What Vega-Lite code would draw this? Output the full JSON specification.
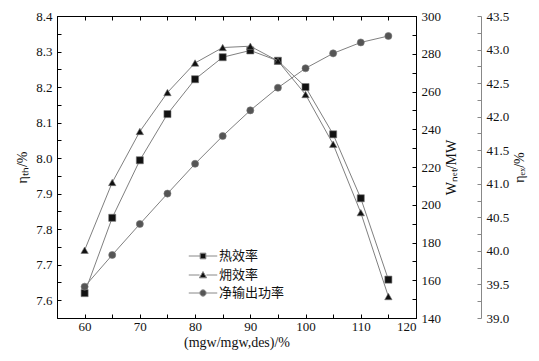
{
  "$schema": "https://vega.github.io/schema/vega-lite/v6.json",
  "width": 359,
  "height": 302,
  "padding": {"left": 15, "top": 10, "right": 2, "bottom": 5},
  "config": {
    "font": "Liberation Serif",
    "view": {"stroke": "#000", "strokeWidth": 1},
    "axis": {
      "grid": false,
      "domainColor": "#000",
      "tickColor": "#000",
      "labelColor": "#111",
      "titleColor": "#111",
      "labelFont": "Liberation Serif",
      "titleFont": "Liberation Serif",
      "labelFontSize": 13,
      "titleFontSize": 14,
      "titleFontWeight": "normal",
      "tickSize": -4,
      "labelPadding": 9
    },
    "legend": {
      "orient": "none",
      "title": null,
      "labelFont": "Noto Sans CJK SC",
      "labelFontSize": 13,
      "labelColor": "#111",
      "labelOffset": 6,
      "symbolSize": 361,
      "symbolStrokeColor": "#888",
      "symbolStrokeWidth": 1,
      "rowPadding": 0
    }
  },
  "data": {
    "values": [
      {"load": 60, "series": "热效率", "value": 7.62},
      {"load": 65, "series": "热效率", "value": 7.832},
      {"load": 70, "series": "热效率", "value": 7.994},
      {"load": 75, "series": "热效率", "value": 8.124},
      {"load": 80, "series": "热效率", "value": 8.222},
      {"load": 85, "series": "热效率", "value": 8.284},
      {"load": 90, "series": "热效率", "value": 8.303},
      {"load": 95, "series": "热效率", "value": 8.274},
      {"load": 100, "series": "热效率", "value": 8.2},
      {"load": 105, "series": "热效率", "value": 8.067},
      {"load": 110, "series": "热效率", "value": 7.887},
      {"load": 115, "series": "热效率", "value": 7.658},
      {"load": 60, "series": "㶲效率", "value": 40.01},
      {"load": 65, "series": "㶲效率", "value": 41.02},
      {"load": 70, "series": "㶲效率", "value": 41.78},
      {"load": 75, "series": "㶲效率", "value": 42.36},
      {"load": 80, "series": "㶲效率", "value": 42.8},
      {"load": 85, "series": "㶲效率", "value": 43.03},
      {"load": 90, "series": "㶲效率", "value": 43.05},
      {"load": 95, "series": "㶲效率", "value": 42.83},
      {"load": 100, "series": "㶲效率", "value": 42.33},
      {"load": 105, "series": "㶲效率", "value": 41.59},
      {"load": 110, "series": "㶲效率", "value": 40.57},
      {"load": 115, "series": "㶲效率", "value": 39.32},
      {"load": 60, "series": "净输出功率", "value": 156.6},
      {"load": 65, "series": "净输出功率", "value": 173.4},
      {"load": 70, "series": "净输出功率", "value": 189.8},
      {"load": 75, "series": "净输出功率", "value": 205.9},
      {"load": 80, "series": "净输出功率", "value": 221.7},
      {"load": 85, "series": "净输出功率", "value": 236.4},
      {"load": 90, "series": "净输出功率", "value": 250.0},
      {"load": 95, "series": "净输出功率", "value": 262.0},
      {"load": 100, "series": "净输出功率", "value": 272.3},
      {"load": 105, "series": "净输出功率", "value": 280.2},
      {"load": 110, "series": "净输出功率", "value": 286.0},
      {"load": 115, "series": "净输出功率", "value": 289.4}
    ]
  },
  "layer": [
    {
      "transform": [{"filter": "datum.series === '热效率'"}],
      "encoding": {
        "x": {
          "field": "load", "type": "quantitative",
          "scale": {"domain": [55, 120], "nice": false, "zero": false},
          "axis": {
            "orient": "bottom",
            "title": "(mgw/mgw,des)/%",
            "values": [60, 65, 70, 75, 80, 85, 90, 95, 100, 105, 110, 115, 120],
            "labelExpr": "datum.value % 10 === 0 ? datum.label : ''",
            "labelPadding": 6,
            "titlePadding": 2
          }
        },
        "y": {
          "field": "value", "type": "quantitative",
          "scale": {"domain": [7.55, 8.4], "nice": false, "zero": false},
          "axis": {
            "orient": "left",
            "title": "ηₜₕ/%",
            "values": [7.6, 7.65, 7.7, 7.75, 7.8, 7.85, 7.9, 7.95, 8.0, 8.05, 8.1, 8.15, 8.2, 8.25, 8.3, 8.35, 8.4],
            "labelExpr": "abs(datum.value * 10 - round(datum.value * 10)) < 0.01 ? format(datum.value, '.1f') : ''",
            "titlePadding": 6
          }
        }
      },
      "layer": [
        {"mark": {"type": "line", "color": "#808080", "strokeWidth": 1}, "encoding": {}},
        {
          "mark": {"type": "point", "shape": "square", "filled": true, "size": 50, "opacity": 1, "stroke": "#777", "strokeWidth": 0.6},
          "encoding": {
            "color": {
              "field": "series", "type": "nominal",
              "scale": {"domain": ["热效率"], "range": ["#111111"]},
              "legend": {"legendX": 136, "legendY": 230, "symbolType": "M-1.5,0H-0.3M0.3,0H1.5M-0.3,-0.3H0.3V0.3H-0.3Z"}
            }
          }
        }
      ]
    },
    {
      "transform": [{"filter": "datum.series === '㶲效率'"}],
      "encoding": {
        "x": {
          "field": "load", "type": "quantitative",
          "scale": {"domain": [55, 120], "nice": false, "zero": false},
          "axis": {
            "orient": "top",
            "title": null,
            "labels": false,
            "values": [60, 65, 70, 75, 80, 85, 90, 95, 100, 105, 110, 115, 120]
          }
        },
        "y": {
          "field": "value", "type": "quantitative",
          "scale": {"domain": [39.0, 43.5], "nice": false, "zero": false},
          "axis": {
            "orient": "right",
            "offset": 65,
            "title": "ηₑₓ/%",
            "titleAngle": 270,
            "titleBaseline": "top",
            "domainColor": "#888",
            "tickColor": "#888",
            "values": [39.0, 39.25, 39.5, 39.75, 40.0, 40.25, 40.5, 40.75, 41.0, 41.25, 41.5, 41.75, 42.0, 42.25, 42.5, 42.75, 43.0, 43.25, 43.5],
            "labelExpr": "(datum.value * 2) % 1 === 0 ? format(datum.value, '.1f') : ''",
            "titlePadding": 4
          }
        }
      },
      "layer": [
        {"mark": {"type": "line", "color": "#808080", "strokeWidth": 1}, "encoding": {}},
        {
          "mark": {"type": "point", "shape": "triangle-up", "filled": true, "size": 55, "opacity": 1, "stroke": "#777", "strokeWidth": 0.6},
          "encoding": {
            "color": {
              "field": "series", "type": "nominal",
              "scale": {"domain": ["㶲效率"], "range": ["#111111"]},
              "legend": {"legendX": 136, "legendY": 249, "symbolType": "M-1.5,0H-0.36M0.36,0H1.5M0,-0.36L0.38,0.3H-0.38Z"}
            }
          }
        }
      ]
    },
    {
      "transform": [{"filter": "datum.series === '净输出功率'"}],
      "encoding": {
        "x": {
          "field": "load", "type": "quantitative",
          "scale": {"domain": [55, 120], "nice": false, "zero": false},
          "axis": null
        },
        "y": {
          "field": "value", "type": "quantitative",
          "scale": {"domain": [140, 300], "nice": false, "zero": false},
          "axis": {
            "orient": "right",
            "title": "Wₙₑₜ/MW",
            "titleAngle": 270,
            "titleBaseline": "top",
            "values": [140, 150, 160, 170, 180, 190, 200, 210, 220, 230, 240, 250, 260, 270, 280, 290, 300],
            "labelExpr": "datum.value % 20 === 0 ? datum.label : ''",
            "titlePadding": 4
          }
        }
      },
      "layer": [
        {"mark": {"type": "line", "color": "#808080", "strokeWidth": 1}, "encoding": {}},
        {
          "mark": {"type": "point", "shape": "circle", "filled": true, "size": 50, "opacity": 1, "stroke": "#777", "strokeWidth": 0.6},
          "encoding": {
            "color": {
              "field": "series", "type": "nominal",
              "scale": {"domain": ["净输出功率"], "range": ["#555555"]},
              "legend": {"legendX": 136, "legendY": 267, "symbolType": "M-1.5,0H-0.33M0.33,0H1.5M0.33,0A0.33,0.33,0,1,1,-0.33,0A0.33,0.33,0,1,1,0.33,0Z"}
            }
          }
        }
      ]
    }
  ],
  "resolve": {
    "scale": {"y": "independent", "x": "independent", "color": "independent"},
    "legend": {"color": "independent"}
  }
}
